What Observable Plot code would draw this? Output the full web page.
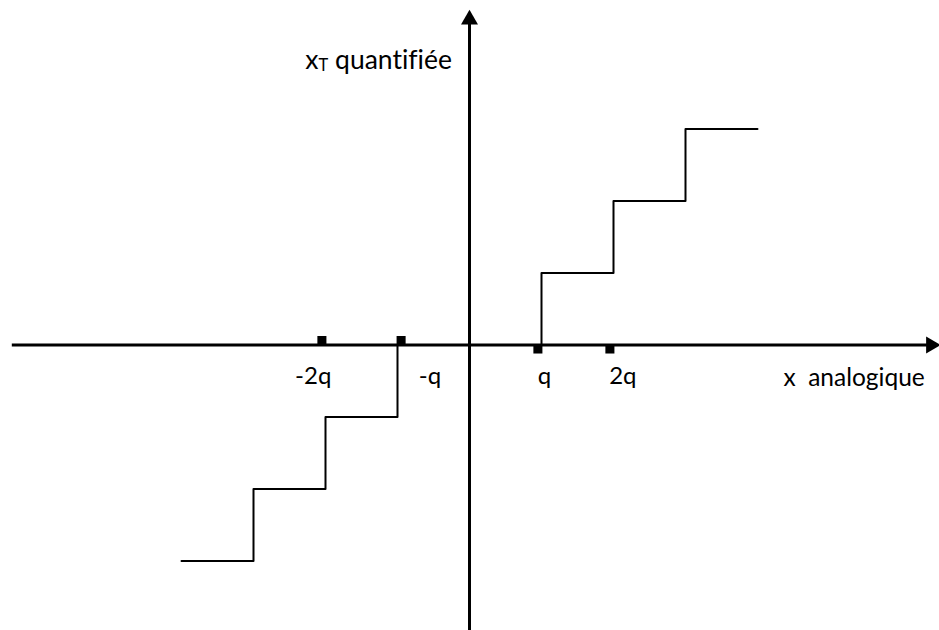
<!DOCTYPE html>
<html>
<head>
<meta charset="utf-8">
<script src="https://cdn.jsdelivr.net/npm/d3@7"></script>
<script src="https://cdn.jsdelivr.net/npm/@observablehq/plot@0.6"></script>
<style>
  body { margin: 0; background: #fff; }
  svg text { font-variant-ligatures: none; }
</style>
</head>
<body>
<div id="chart"></div>
<script>
// Quantizer transfer characteristic, all values in units of the step q.
// Positive branch: output jumps at each edge and holds the level until the next edge.
const upEdges = [1, 2, 3, 4];
const upLevels = [0, 1, 2, 3];
// Negative branch (mirror image).
const downEdges = [-1, -2, -3, -4];
const downLevels = [0, -1, -2, -3];

// Small square markers on the horizontal axis and their labels.
const tickAt = [-2.05, -0.95, 0.95, 1.95];
const tickLabels = ["-2q", "-q", "q", "2q"];
const tickLabelAt = [-2.17, -0.55, 1.04, 2.13];

// Axis extents and titles.
const xAxisFrom = -6.35;
const xArrowAt = 6.41;
const yArrowAt = 4.52;
const xTitle = "x\u00a0 analogique";
const xTitleAt = 4.36;
const yTitleMain = "x";
const yTitleSub = "T";
const yTitleRest = " quantifiée";
const yTitleAt = [-2.28, 3.84];

const stairs = [
  ...upEdges.map((x, i) => ({branch: "up", x, y: upLevels[i]})),
  ...downEdges.map((x, i) => ({branch: "down", x, y: downLevels[i]}))
];
const ticks = tickAt.map((x, i) => ({x, label: tickLabels[i], labelX: tickLabelAt[i]}));
const yTitle = yTitleMain + yTitleSub + yTitleRest;

const unit = 72; // pixels per q
const W = 939, H = 630, ox = 469, oy = 344.5;

const chart = Plot.plot({
  width: W,
  height: H,
  margin: 0,
  x: {domain: [-ox / unit, (W - ox) / unit], axis: null},
  y: {domain: [-(H - oy) / unit, oy / unit], axis: null},
  style: {fontFamily: "Lato, sans-serif", fontSize: "24px", background: "#fff", color: "#000"},
  marks: [
    // axes
    Plot.ruleY([0], {x1: xAxisFrom, x2: xArrowAt - 0.05, stroke: "#000", strokeWidth: 3}),
    Plot.ruleX([0], {y1: -(H - oy) / unit - 0.1, y2: yArrowAt - 0.05, stroke: "#000", strokeWidth: 3}),
    Plot.dot([{x: xArrowAt, y: 0, a: 90}, {x: 0, y: yArrowAt, a: 0}], {
      x: "x", y: "y", rotate: "a", symbol: "triangle", r: 6.3, fill: "#000", stroke: "none"
    }),
    // staircase
    Plot.line(stairs, {x: "x", y: "y", z: "branch", curve: "step-before", stroke: "#000", strokeWidth: 2}),
    // tick squares: above the axis on the negative side, below on the positive side
    Plot.dot(ticks.filter(d => d.x < 0), {x: "x", y: () => 0, dy: -4.5, symbol: "square", r: 5.1, fill: "#000", stroke: "none"}),
    Plot.dot(ticks.filter(d => d.x > 0), {x: "x", y: () => 0, dy: 4, symbol: "square", r: 5.1, fill: "#000", stroke: "none"}),
    // tick labels
    Plot.text(ticks, {x: "labelX", y: () => 0, text: "label", dy: 38.5, lineAnchor: "bottom", textAnchor: "middle", fill: "#000"}),
    // axis titles
    Plot.text([xTitle], {x: () => xTitleAt, y: () => 0, text: d => d, dy: 40.5, lineAnchor: "bottom", textAnchor: "start", fill: "#000", fontSize: 24.5}),
    Plot.text([yTitle], {x: () => yTitleAt[0], y: () => yTitleAt[1], text: d => d, lineAnchor: "bottom", textAnchor: "start", fill: "#000", fontSize: 26.5})
  ]
});

// Set the "T" of the vertical title as a subscript.
d3.select(chart).selectAll("text")
  .filter(function () { return this.textContent === yTitle; })
  .each(function () {
    const t = d3.select(this);
    t.text(null);
    t.append("tspan").text(yTitleMain);
    t.append("tspan").attr("font-size", "16.5px").attr("dy", 2).text(yTitleSub);
    t.append("tspan").attr("dy", -2).text(yTitleRest);
  });

document.getElementById("chart").append(chart);
</script>
</body>
</html>
